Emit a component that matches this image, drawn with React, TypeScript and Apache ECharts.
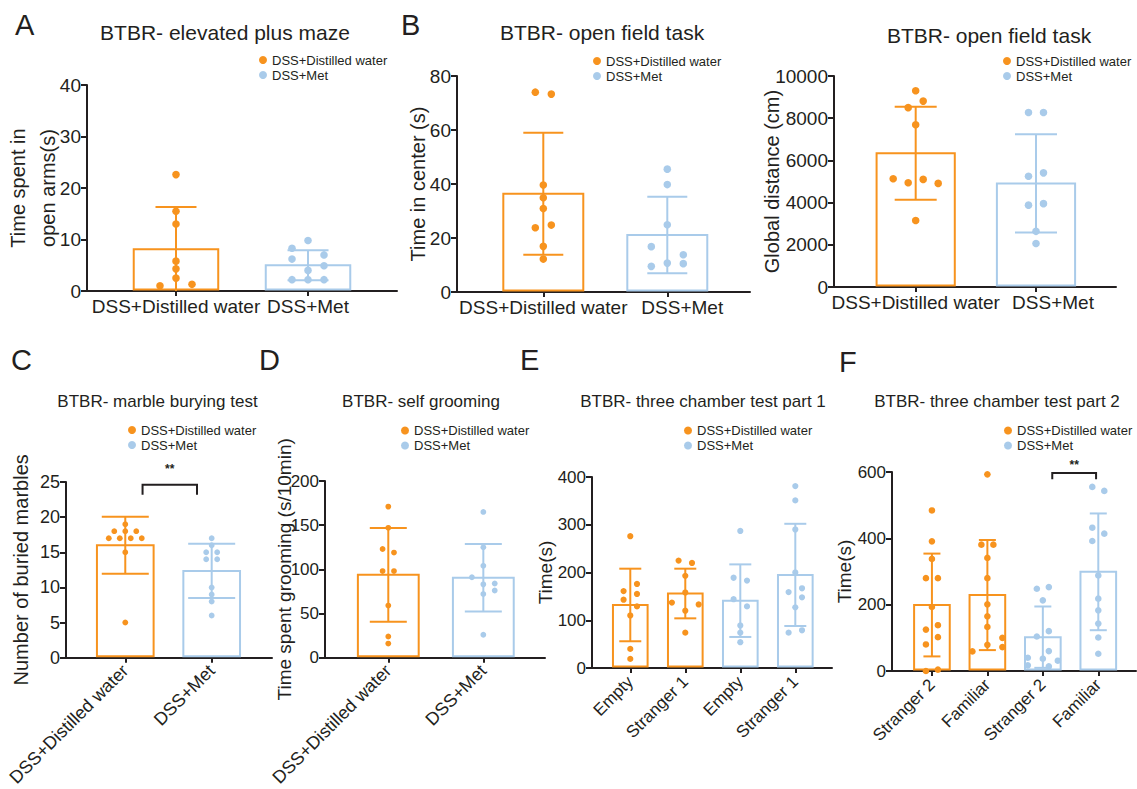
import React, { useEffect, useRef } from 'react';
import * as echarts from 'echarts';

const ORANGE = '#F7931E';
const BLUE = '#A9CBEA';
const INK = '#231F20';
const FONT = '"Liberation Sans", Arial, Helvetica, sans-serif';
const GROUP_NAMES = ['DSS+Distilled water', 'DSS+Met'];
const GROUP_COLORS = [ORANGE, BLUE];

// ---------- Panel A: elevated plus maze ----------
const aCategories = ['DSS+Distilled water', 'DSS+Met'];
const aGroupOf = [0, 1];
const aMeans = [8.1, 5.0];
const aSD = [8.2, 2.9];
const aYTicks = [0, 10, 20, 30, 40];
// [category, value, jitter column]
const aPoints = [
  [0, 22.6, 0], [0, 15.5, 0], [0, 13, 0], [0, 5.8, 0], [0, 4.3, 0], [0, 2.5, 0], [0, 1.0, -1], [0, 1.3, 1],
  [1, 9.8, 0], [1, 8.3, -1], [1, 7.0, 1], [1, 6.2, -1], [1, 4.9, 1], [1, 4.0, 0], [1, 2.2, -1], [1, 2.2, 0], [1, 2.2, 1],
];

// ---------- Panel B1: open field, time in center ----------
const b1Categories = ['DSS+Distilled water', 'DSS+Met'];
const b1GroupOf = [0, 1];
const b1Means = [36.4, 21.1];
const b1SD = [22.6, 14.2];
const b1YTicks = [0, 20, 40, 60, 80];
const b1Points = [
  [0, 74.0, -1], [0, 73.3, 1], [0, 39.6, 0], [0, 34.9, 0], [0, 30.9, 0], [0, 23.8, -1], [0, 24.8, 1], [0, 16.9, 0], [0, 12.2, 0],
  [1, 45.5, 0], [1, 39.8, 0], [1, 24.9, 0], [1, 16.8, -2], [1, 13.8, 2], [1, 10.7, 0], [1, 10.5, 2], [1, 9.5, -2],
];

// ---------- Panel B2: open field, global distance ----------
const b2Categories = ['DSS+Distilled water', 'DSS+Met'];
const b2GroupOf = [0, 1];
const b2Means = [6340, 4910];
const b2SD = [2200, 2330];
const b2YTicks = [0, 2000, 4000, 6000, 8000, 10000];
const b2Points = [
  [0, 9300, 0], [0, 8810, 1], [0, 8500, -1], [0, 7690, 0], [0, 5130, -3], [0, 4940, -1], [0, 5100, 1], [0, 4910, 3], [0, 3150, 0],
  [1, 8270, -1], [1, 8270, 1], [1, 5250, -1], [1, 5410, 1], [1, 3880, -1], [1, 3950, 1], [1, 2640, 0], [1, 2060, 0],
];

// ---------- Panel C: marble burying ----------
const cCategories = ['DSS+Distilled water', 'DSS+Met'];
const cGroupOf = [0, 1];
const cMeans = [16.0, 12.35];
const cSD = [4.05, 3.85];
const cYTicks = [0, 5, 10, 15, 20, 25];
const cPoints = [
  [0, 19, 0], [0, 18, -2], [0, 18, 0], [0, 18, 2], [0, 17, -3], [0, 17, -1], [0, 17, 1], [0, 17, 3], [0, 15, 0], [0, 5, 0],
  [1, 17, 0], [1, 16, 0], [1, 15, -1], [1, 15, 1], [1, 14, -1], [1, 14, 1], [1, 10, 0], [1, 9, 0], [1, 8, 0], [1, 6, 0],
];
// [from, to, top, drop, stars]
const cBracket = [0.2, 0.83, 24.6, 23.2, 26.9];

// ---------- Panel D: self grooming ----------
const dCategories = ['DSS+Distilled water', 'DSS+Met'];
const dGroupOf = [0, 1];
const dMeans = [93.8, 90.5];
const dSD = [53, 38.2];
const dYTicks = [0, 50, 100, 150, 200];
const dPoints = [
  [0, 171, 0], [0, 147, 0], [0, 123, -1], [0, 119, 1], [0, 98, -1], [0, 98, 1], [0, 59, 0], [0, 24, 0], [0, 16, 0],
  [1, 165, 0], [1, 125, 0], [1, 104, 0], [1, 91, -2], [1, 83, 0], [1, 84, 2], [1, 72, 0], [1, 76, 2], [1, 26, 0],
];

// ---------- Panel E: three chamber part 1 ----------
const eCategories = ['Empty', 'Stranger 1', 'Empty', 'Stranger 1'];
const eGroupOf = [0, 0, 1, 1];
const eMeans = [132, 156, 141, 195];
const eSD = [76, 52, 76, 107];
const eYTicks = [0, 100, 200, 300, 400];
const ePoints = [
  [0, 276, 0], [0, 176, 1], [0, 161, -1], [0, 155, 1], [0, 143, -1], [0, 129, 1], [0, 110, 0], [0, 40, 0], [0, 19, 0],
  [1, 225, -1], [1, 220, 1], [1, 193, 0], [1, 158, 0], [1, 137, -2], [1, 133, 2], [1, 120, 0], [1, 74, 0],
  [2, 287, 0], [2, 189, -1], [2, 183, 1], [2, 144, -1], [2, 129, 1], [2, 89, 0], [2, 74, 0], [2, 54, 0],
  [3, 381, 0], [3, 351, 0], [3, 290, 0], [3, 200, 0], [3, 167, 1], [3, 159, -1], [3, 148, 1], [3, 127, 0], [3, 79, 1], [3, 74, -1],
];

// ---------- Panel F: three chamber part 2 ----------
const fCategories = ['Stranger 2', 'Familiar', 'Stranger 2', 'Familiar'];
const fGroupOf = [0, 0, 1, 1];
const fMeans = [199, 229, 102, 299];
const fSD = [155, 166, 92.5, 176];
const fYTicks = [0, 200, 400, 600];
const fPoints = [
  [0, 484, 0], [0, 391, 0], [0, 338, 0], [0, 280, -1], [0, 280, 1], [0, 193, 0], [0, 138, 1], [0, 125, -1], [0, 102, 1], [0, 80, -1], [0, 0, -1], [0, 4, 1],
  [1, 593, 0], [1, 381, -1], [1, 381, 1], [1, 341, 0], [1, 280, 0], [1, 201, 0], [1, 165, 0], [1, 133, 0], [1, 100, 2.5], [1, 79, 0], [1, 59, -2.5], [1, 72, 2.5],
  [2, 253, 1], [2, 248, -1], [2, 213, 0], [2, 120, 1], [2, 104, -1], [2, 60, 1], [2, 40, -2.5], [2, 37, 0], [2, 31, 2.5], [2, 17, -2.5], [2, 14, 1],
  [3, 555, -1], [3, 543, 1], [3, 432, -1], [3, 392, -1], [3, 414, 1], [3, 288, 0], [3, 218, 0], [3, 183, 0], [3, 143, 0], [3, 101, 0], [3, 52, 0],
];
const fBracket = [2.17, 2.96, 597, 578, 622];

type Panel = {
  title: string; letter?: string; yName: string;
  cats: string[]; groupOf: number[]; means: number[]; sds: number[]; yTicks: number[];
  points: number[][]; bracket?: number[];
  L: any;
};

const PANELS: Panel[] = [
  { title: 'BTBR- elevated plus maze', letter: 'A', yName: 'Time spent in\nopen arms(s)',
    cats: aCategories, groupOf: aGroupOf, means: aMeans, sds: aSD, yTicks: aYTicks, points: aPoints,
    L: { left: 87, top: 85, width: 310, height: 206, xMin: -0.674, xMax: 1.674, barW: 0.64, cap: 41, r: 3.8, jit: 16,
      titleX: 225, titleY: 22, titleSize: 21, legL: 259, legT: 53.5, nameGap: 24, nameSize: 20, tickSize: 19,
      xSize: 19, rotate: 0, xMargin: 6, split: 0, letX: 15, letY: 10 } },
  { title: 'BTBR- open field task', letter: 'B', yName: 'Time in center (s)',
    cats: b1Categories, groupOf: b1GroupOf, means: b1Means, sds: b1SD, yTicks: b1YTicks, points: b1Points,
    L: { left: 457, top: 76, width: 293, height: 216, xMin: -0.696, xMax: 1.667, barW: 0.645, cap: 40, r: 3.8, jit: 8,
      titleX: 602, titleY: 22, titleSize: 21, legL: 593, legT: 54.5, nameGap: 24, nameSize: 20, tickSize: 19,
      xSize: 19, rotate: 0, xMargin: 6, split: 30, letX: 401, letY: 10 } },
  { title: 'BTBR- open field task', yName: 'Global distance (cm)',
    cats: b2Categories, groupOf: b2GroupOf, means: b2Means, sds: b2SD, yTicks: b2YTicks, points: b2Points,
    L: { left: 834, top: 76, width: 282, height: 211, xMin: -0.679, xMax: 1.665, barW: 0.65, cap: 42, r: 3.8, jit: 7.5,
      titleX: 989, titleY: 25, titleSize: 21, legL: 1003, legT: 54.5, nameGap: 47, nameSize: 20, tickSize: 19,
      xSize: 19, rotate: 0, xMargin: 6, split: 34 } },
  { title: 'BTBR- marble burying test', letter: 'C', yName: 'Number of buried marbles',
    cats: cCategories, groupOf: cGroupOf, means: cMeans, sds: cSD, yTicks: cYTicks, points: cPoints, bracket: cBracket,
    L: { left: 66, top: 482, width: 206, height: 189, xMin: -0.686, xMax: 1.698, barW: 0.656, cap: 47, r: 2.9, jit: 5.5,
      titleX: 157.5, titleY: 393, titleSize: 17, legL: 128, legT: 423.5, nameGap: 30, nameSize: 20, tickSize: 18,
      xSize: 18, rotate: 45, xMargin: 10, split: 0, letX: 11, letY: 345 } },
  { title: 'BTBR- self grooming', letter: 'D', yName: 'Time spent grooming (s/10min)',
    cats: dCategories, groupOf: dGroupOf, means: dMeans, sds: dSD, yTicks: dYTicks, points: dPoints,
    L: { left: 325, top: 481, width: 220, height: 191, xMin: -0.666, xMax: 1.649, barW: 0.64, cap: 37, r: 2.9, jit: 5.7,
      titleX: 421, titleY: 393, titleSize: 17, legL: 401, legT: 424, nameGap: 26, nameSize: 19, tickSize: 17,
      xSize: 18, rotate: 45, xMargin: 10, split: 0, letX: 259, letY: 345 } },
  { title: 'BTBR- three chamber test part 1', letter: 'E', yName: 'Time(s)',
    cats: eCategories, groupOf: eGroupOf, means: eMeans, sds: eSD, yTicks: eYTicks, points: ePoints,
    L: { left: 592, top: 477, width: 240, height: 191, xMin: -0.696, xMax: 3.667, barW: 0.63, cap: 22, r: 3.1, jit: 6.7,
      titleX: 703, titleY: 393, titleSize: 17, legL: 684, legT: 424, nameGap: 32, nameSize: 19, tickSize: 17,
      xSize: 17, rotate: 45, xMargin: 11, split: 0, letX: 520, letY: 345 } },
  { title: 'BTBR- three chamber test part 2', letter: 'F', yName: 'Time(s)',
    cats: fCategories, groupOf: fGroupOf, means: fMeans, sds: fSD, yTicks: fYTicks, points: fPoints, bracket: fBracket,
    L: { left: 892, top: 472, width: 244, height: 199, xMin: -0.72, xMax: 3.68, barW: 0.643, cap: 17, r: 3.3, jit: 6,
      titleX: 997, titleY: 393, titleSize: 17, legL: 1004, legT: 424, nameGap: 33, nameSize: 19, tickSize: 17,
      xSize: 17, rotate: 45, xMargin: 11, split: 0, letX: 839, letY: 347 } },
];

function buildOption() {
  const grid: any[] = [];
  const xAxis: any[] = [];
  const yAxis: any[] = [];
  const series: any[] = [];
  const legend: any[] = [];
  const title: any[] = [];
  const graphic: any[] = [];

  PANELS.forEach((p, i) => {
    const L = p.L;
    grid.push({ left: L.left, top: L.top, width: L.width, height: L.height, containLabel: false });
    const tickIdx = p.cats.map((_, k) => k);
    const n = p.cats.length;
    const mainLabels = L.split ? tickIdx.slice(0, n - 1) : tickIdx;
    const labelBase = {
      show: true, margin: L.xMargin, rotate: L.rotate,
      showMinLabel: true, showMaxLabel: true, hideOverlap: false,
      formatter: (v: number) => p.cats[Math.round(v)] ?? '',
      fontSize: L.xSize, color: INK, fontFamily: FONT,
    };
    const xIdx = xAxis.length;
    xAxis.push({
      type: 'value', gridIndex: i, position: 'bottom', min: L.xMin, max: L.xMax,
      axisLine: { show: true, onZero: false, lineStyle: { color: INK, width: 2 } },
      axisTick: { show: true, customValues: tickIdx, length: 5, lineStyle: { color: INK, width: 2 } },
      axisLabel: { ...labelBase, customValues: mainLabels },
      splitLine: { show: false },
    });
    if (L.split) {
      // last category label on a twin axis so the two long labels are both kept, shifted as in the figure
      xAxis.push({
        type: 'value', gridIndex: i, position: 'bottom', min: L.xMin, max: L.xMax,
        axisLine: { show: false, onZero: false }, axisTick: { show: false },
        axisLabel: { ...labelBase, customValues: [n - 1], padding: [0, 0, 0, L.split] },
        splitLine: { show: false },
      });
    }
    const yMax = p.yTicks[p.yTicks.length - 1];
    const yInt = p.yTicks[1] - p.yTicks[0];
    const yIdx = yAxis.length;
    yAxis.push({
      type: 'value', gridIndex: i, min: 0, max: yMax, interval: yInt,
      name: p.yName, nameLocation: 'middle', nameRotate: 90, nameGap: L.nameGap, nameMoveOverlap: false,
      nameTextStyle: { fontSize: L.nameSize, color: INK, fontFamily: FONT, lineHeight: 30 },
      axisLine: { show: true, onZero: false, lineStyle: { color: INK, width: 2 } },
      axisTick: { show: true, length: 6, lineStyle: { color: INK, width: 2 } },
      axisLabel: { fontSize: L.tickSize, color: INK, fontFamily: FONT, margin: 6, formatter: (v: number) => String(v) },
      splitLine: { show: false },
    });

    // bars + SD per group
    [0, 1].forEach((g) => {
      const color = GROUP_COLORS[g];
      const data = tickIdx.filter((k) => p.groupOf[k] === g).map((k) => [k, p.means[k], p.sds[k]]);
      series.push({
        type: 'custom', name: GROUP_NAMES[g], xAxisIndex: xIdx, yAxisIndex: yIdx, z: 2,
        itemStyle: { color }, data,
        renderItem: (_params: any, api: any) => {
          const x = api.value(0), m = api.value(1), sd = api.value(2);
          const base = api.coord([x, 0]);
          const top = api.coord([x, m]);
          const hi = api.coord([x, m + sd]);
          const loV = m - sd;
          const lo = api.coord([x, Math.max(0, loV)]);
          const bw = api.size([L.barW, 0])[0];
          const cw = L.cap / 2;
          const children: any[] = [
            { type: 'rect', shape: { x: top[0] - bw / 2, y: top[1], width: bw, height: base[1] - top[1] - 1.5 },
              style: { fill: '#fff', stroke: color, lineWidth: 2 } },
            { type: 'line', shape: { x1: hi[0], y1: hi[1], x2: lo[0], y2: lo[1] }, style: { stroke: color, lineWidth: 2 } },
            { type: 'line', shape: { x1: hi[0] - cw, y1: hi[1], x2: hi[0] + cw, y2: hi[1] }, style: { stroke: color, lineWidth: 2 } },
          ];
          if (loV > 0) {
            children.push({ type: 'line', shape: { x1: lo[0] - cw, y1: lo[1], x2: lo[0] + cw, y2: lo[1] }, style: { stroke: color, lineWidth: 2 } });
          }
          return { type: 'group', children };
        },
      });
    });
    // points per group
    [0, 1].forEach((g) => {
      const color = GROUP_COLORS[g];
      const data = p.points.filter((pt) => p.groupOf[pt[0]] === g);
      series.push({
        type: 'custom', name: GROUP_NAMES[g], xAxisIndex: xIdx, yAxisIndex: yIdx, z: 3,
        itemStyle: { color }, data,
        renderItem: (_params: any, api: any) => {
          const c = api.coord([api.value(0), api.value(1)]);
          return { type: 'circle', shape: { cx: c[0] + api.value(2) * L.jit, cy: c[1], r: L.r }, style: { fill: color } };
        },
      });
    });
    if (p.bracket) {
      series.push({
        type: 'custom', name: 'significance', xAxisIndex: xIdx, yAxisIndex: yIdx, z: 4,
        data: [p.bracket],
        renderItem: (_params: any, api: any) => {
          const a = api.coord([api.value(0), api.value(2)]);
          const b = api.coord([api.value(1), api.value(2)]);
          const drop = api.coord([api.value(0), api.value(3)]);
          const st = api.coord([(api.value(0) + api.value(1)) / 2, api.value(4)]);
          return {
            type: 'group', children: [
              { type: 'polyline', shape: { points: [[a[0], drop[1]], [a[0], a[1]], [b[0], b[1]], [b[0], drop[1]]] },
                style: { stroke: INK, lineWidth: 2, fill: 'none' } },
              { type: 'text', x: st[0], y: st[1],
                style: { text: '**', fontSize: 12, fontWeight: 'bold', fontFamily: FONT, fill: INK, align: 'center', verticalAlign: 'middle' } },
            ],
          };
        },
      });
    }
    legend.push({
      orient: 'vertical', left: L.legL, top: L.legT, padding: 0, itemGap: 2, itemWidth: 8, itemHeight: 8,
      icon: 'circle', selectedMode: false,
      data: GROUP_NAMES.map((nm, g) => ({ name: nm, itemStyle: { color: GROUP_COLORS[g] } })),
      textStyle: { fontSize: 13, color: INK, fontFamily: FONT },
    });
    title.push({
      text: p.title, left: L.titleX, top: L.titleY, textAlign: 'center', padding: 0,
      textStyle: { fontSize: L.titleSize, fontWeight: 'normal', color: INK, fontFamily: FONT },
    });
    if (p.letter) {
      graphic.push({ type: 'text', left: L.letX, top: L.letY,
        style: { text: p.letter, fontSize: 29, fontFamily: FONT, fill: INK } });
    }
  });

  return {
    animation: false,
    backgroundColor: '#ffffff',
    textStyle: { fontFamily: FONT },
    grid, xAxis, yAxis, series, legend, title, graphic,
  };
}

export default function App() {
  const ref = useRef<HTMLDivElement>(null);
  useEffect(() => {
    if (!ref.current) return;
    const chart = echarts.init(ref.current, undefined, { renderer: 'svg' });
    chart.setOption(buildOption() as any);
    return () => chart.dispose();
  }, []);
  return <div ref={ref} style={{ position: 'absolute', left: 0, top: 0, width: 1137, height: 789, background: '#fff' }} />;
}
